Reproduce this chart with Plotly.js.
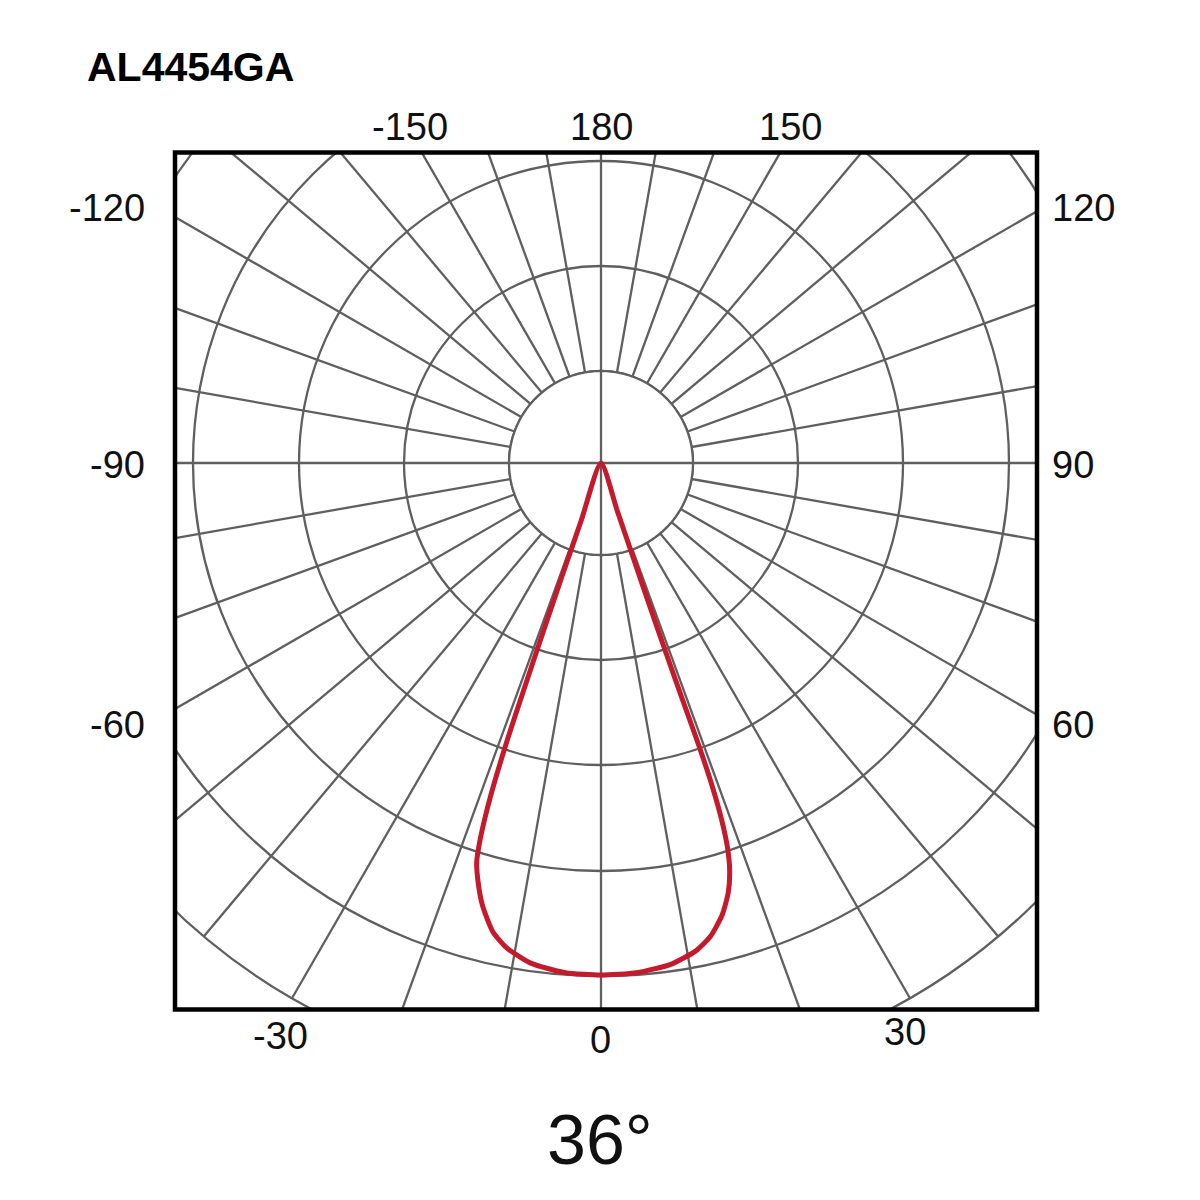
<!DOCTYPE html>
<html>
<head>
<meta charset="utf-8">
<script src="https://cdn.plot.ly/plotly-3.0.1.min.js"></script>
<style>
html,body{margin:0;padding:0;width:1200px;height:1200px;overflow:hidden;background:#ffffff;}
#chart{position:absolute;left:-102px;top:-240px;width:1406px;height:1500px;}
</style>
</head>
<body>
<div id="chart"></div>
<script>
// ---- data ----
const chartTitle = 'AL4454GA';
const beamAngleLabel = '36°';

// angle labels shown around the frame (degrees)
const angleLabels = ['-150', '180', '150', '-120', '-90', '-60', '120', '90', '60', '-30', '0', '30'];

// light distribution curve: angle (deg, 0 = down, +90 = right) and relative intensity
const curveAngles = [-19.0, -19.0, -19.0, -18.9, -18.8, -18.7, -18.5, -18.2, -17.8, -17.3, -16.5, -15.0, -13.0, -11.0, -8.0, -4.0,
                      0, 4, 8, 11, 13, 15, 16.5, 17.5, 18.2, 18.7, 19.0, 19.1, 19.0, 18.9, 18.8, 18.8, 18.8, 18.8];
const curveIntensity = [0, 60, 120, 180, 240, 290, 330, 365, 395, 418, 434, 458, 481, 494, 505, 511,
                        512, 511, 506, 497, 486, 468, 448, 428, 405, 375, 340, 300, 250, 200, 150, 100, 50, 0];

// ---- geometry helpers (window pixels -> paper fractions of the oversized paper) ----
const OFFX = 102, OFFY = 240, W = 1406, H = 1500;
const px = x => (x + OFFX) / W;
const py = y => 1 - (y + OFFY) / H;

const GRID = '#5f5f5f';
const GRIDW = 2.3;
const HOLE = 92;
const RMAX = 618;

// inner hole circle
const holeTheta = [];
const holeR = [];
for (let a = 0; a <= 360; a += 2) { holeTheta.push(a); holeR.push(HOLE); }

const traces = [
  {
    type: 'scatterpolar', mode: 'lines',
    theta: holeTheta, r: holeR,
    fill: 'toself', fillcolor: '#ffffff',
    line: {color: GRID, width: GRIDW},
    hoverinfo: 'skip', showlegend: false
  },
  {
    type: 'scatterpolar', mode: 'lines',
    theta: [180, 180, 0], r: [HOLE, 0, HOLE],
    line: {color: GRID, width: GRIDW},
    hoverinfo: 'skip', showlegend: false
  },
  {
    type: 'scatterpolar', mode: 'lines',
    theta: [270, 270, 90], r: [HOLE, 0, HOLE],
    line: {color: GRID, width: GRIDW},
    hoverinfo: 'skip', showlegend: false
  },
  {
    type: 'scatterpolar', mode: 'lines',
    theta: curveAngles, r: curveIntensity,
    line: {color: '#c41a2b', width: 5, shape: 'spline', smoothing: 0.6},
    name: chartTitle, showlegend: false
  }
];

// label placement (window pixels)
const labelPos = {
  '-150': {x: 410, y: 127, xa: 'center'},
  '180':  {x: 601, y: 127, xa: 'center'},
  '150':  {x: 790, y: 127, xa: 'center'},
  '-120': {x: 147, y: 208, xa: 'right'},
  '-90':  {x: 147, y: 465, xa: 'right'},
  '-60':  {x: 147, y: 725, xa: 'right'},
  '120':  {x: 1050, y: 208, xa: 'left'},
  '90':   {x: 1050, y: 465, xa: 'left'},
  '60':   {x: 1050, y: 725, xa: 'left'},
  '-30':  {x: 280, y: 1036, xa: 'center'},
  '0':    {x: 600, y: 1040, xa: 'center'},
  '30':   {x: 905, y: 1032, xa: 'center'}
};

const FONT = '"Liberation Sans", Arial, Helvetica, sans-serif';

const annotations = angleLabels.map(t => ({
  text: t, xref: 'paper', yref: 'paper',
  x: px(labelPos[t].x), y: py(labelPos[t].y),
  xanchor: labelPos[t].xa, yanchor: 'middle',
  showarrow: false,
  font: {family: FONT, size: 38, color: '#111111'}
}));

annotations.push({
  text: chartTitle, xref: 'paper', yref: 'paper',
  x: px(85), y: py(67), xanchor: 'left', yanchor: 'middle', showarrow: false,
  font: {family: FONT, size: 41, color: '#000000', weight: 'bold'}
});
annotations.push({
  text: beamAngleLabel, xref: 'paper', yref: 'paper',
  x: px(600), y: py(1140), xanchor: 'center', yanchor: 'middle', showarrow: false,
  font: {family: FONT, size: 70, color: '#111111'}
});

const BX0 = 175, BX1 = 1037, BY0 = 152.5, BY1 = 1009.5;
const shapes = [
  // white masks outside the frame
  {type: 'rect', xref: 'paper', yref: 'paper', x0: 0, x1: px(BX0), y0: 0, y1: 1, fillcolor: '#ffffff', line: {width: 0}, layer: 'above'},
  {type: 'rect', xref: 'paper', yref: 'paper', x0: px(BX1), x1: 1, y0: 0, y1: 1, fillcolor: '#ffffff', line: {width: 0}, layer: 'above'},
  {type: 'rect', xref: 'paper', yref: 'paper', x0: 0, x1: 1, y0: py(BY0), y1: 1, fillcolor: '#ffffff', line: {width: 0}, layer: 'above'},
  {type: 'rect', xref: 'paper', yref: 'paper', x0: 0, x1: 1, y0: 0, y1: py(BY1), fillcolor: '#ffffff', line: {width: 0}, layer: 'above'},
  // frame
  {type: 'rect', xref: 'paper', yref: 'paper', x0: px(BX0), x1: px(BX1), y0: py(BY1), y1: py(BY0),
   fillcolor: 'rgba(0,0,0,0)', line: {color: '#000000', width: 4.5}, layer: 'above'}
];

// polar centre at window (601, 463)
const CXP = 601 + OFFX;          // paper pixels from left
const CYP = H - (463 + OFFY);    // paper pixels from bottom
const layout = {
  width: W, height: H,
  margin: {l: 0, r: 0, t: 0, b: 0, pad: 0},
  paper_bgcolor: '#ffffff',
  showlegend: false,
  polar: {
    domain: {x: [(CXP - RMAX) / W, (CXP + RMAX) / W], y: [(CYP - RMAX) / H, (CYP + RMAX) / H]},
    bgcolor: '#ffffff',
    radialaxis: {
      visible: true, range: [0, RMAX],
      tickmode: 'array', tickvals: [HOLE, 197, 302, 408, 513],
      showticklabels: false, ticks: '', showline: false,
      showgrid: true, gridcolor: GRID, gridwidth: GRIDW
    },
    angularaxis: {
      rotation: -90, direction: 'counterclockwise',
      tickmode: 'linear', tick0: 0, dtick: 10,
      showticklabels: false, ticks: '',
      showgrid: true, gridcolor: GRID, gridwidth: GRIDW,
      showline: true, linecolor: GRID, linewidth: GRIDW
    }
  },
  shapes: shapes,
  annotations: annotations
};

Plotly.newPlot('chart', traces, layout, {staticPlot: true, displayModeBar: false});
</script>
</body>
</html>
